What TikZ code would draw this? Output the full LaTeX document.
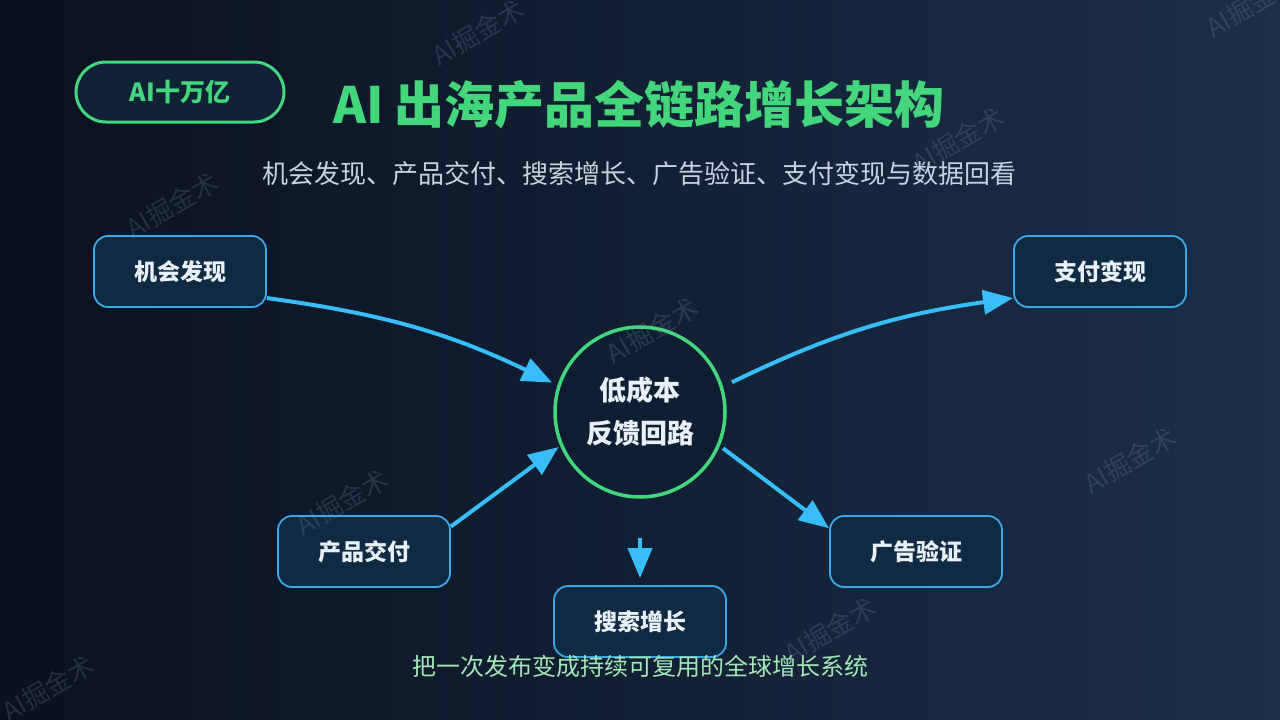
\documentclass[tikz,border=0pt]{standalone}
\usepackage{fontspec}
\setmainfont{Noto Sans CJK SC}
\usetikzlibrary{arrows.meta,calc}
\definecolor{bgL}{HTML}{09111F}
\definecolor{bgR}{HTML}{1B2F49}
\definecolor{acgreen}{HTML}{44D67C}
\definecolor{acblue}{HTML}{38BDF8}
\definecolor{boxfill}{HTML}{0F2A42}
\definecolor{boxline}{HTML}{3AA8E6}
\definecolor{badgefill}{HTML}{0F2236}
\definecolor{circfill}{HTML}{0F1F33}
\definecolor{txtw}{HTML}{E8F0F8}
\definecolor{subt}{HTML}{C5D2E0}
\definecolor{botg}{HTML}{A3E6B8}
\definecolor{wm}{HTML}{8FA3BA}
\tikzset{
  stepbox/.style={draw=boxline, line width=1.8pt, fill=boxfill, rounded corners=14pt,
    minimum width=172pt, minimum height=71pt, text=txtw, inner sep=0pt,
    font=\fontsize{23}{28}\selectfont\bfseries},
  hub/.style={circle, draw=acgreen, line width=3.5pt, fill=circfill, minimum size=170pt,
    inner sep=0pt, align=center, text=txtw, font=\fontsize{27}{43}\selectfont\bfseries},
  badge/.style={draw=acgreen, line width=3pt, fill=badgefill, rounded corners=30pt,
    minimum width=208pt, minimum height=60pt, text=acgreen, inner sep=0pt,
    font=\fontsize{25}{30}\selectfont\bfseries},
  conn/.style={draw=acblue, line width=4pt, -{Triangle[length=30pt,width=24pt]}},
  wmark/.style={text=wm, opacity=0.2, rotate=30, font=\fontsize{26}{30}\selectfont},
}
\begin{document}
\begin{tikzpicture}[x=1pt,y=-1pt]
\shade[left color=bgL, right color=bgR] (0,0) rectangle (1280,720);
\useasboundingbox (0,0) rectangle (1280,720);

\node[badge] (badge) at (180,92) {AI十万亿};
\node[text=acgreen, font=\fontsize{50}{60}\selectfont\bfseries] (title) at (639,105) {AI 出海产品全链路增长架构};
\node[text=subt, font=\fontsize{26}{30}\selectfont] (sub) at (639,174) {机会发现、产品交付、搜索增长、广告验证、支付变现与数据回看};

\node[hub] (c) at (640,412) {低成本\\反馈回路};
\node[stepbox] (n1) at (180,271.5) {机会发现};
\node[stepbox] (p) at (1100,271.5) {支付变现};
\node[stepbox] (d) at (364,551.5) {产品交付};
\node[stepbox] (a) at (916,551.5) {广告验证};
\node[stepbox] (s) at (640,621.5) {搜索增长};

\draw[conn, shorten >=6pt] (n1.-17) to[bend left=9] (c.162.5);
\draw[conn, shorten <=10pt] (c.17.5) to[bend left=9] (p.197);
\draw[conn, shorten >=2pt] (d.16.5) -- (c.203);
\draw[conn, shorten <=4pt] (c.-23) -- (a.165);
\coordinate (d0) at (640,538);
\draw[conn, shorten >=7pt] (d0) -- (s.north);

\node[text=botg, font=\fontsize{24}{28}\selectfont] (bot) at (640,666) {把一次发布变成持续可复用的全球增长系统};

\foreach \i/\x/\y in {1/478/32, 2/958/140, 3/172/205, 4/652/330, 5/1130/460, 6/342/502, 7/830/630, 8/48/688, 9/1252/4}
  \node[wmark] (wm\i) at (\x,\y) {AI掘金术};
\end{tikzpicture}
\end{document}
